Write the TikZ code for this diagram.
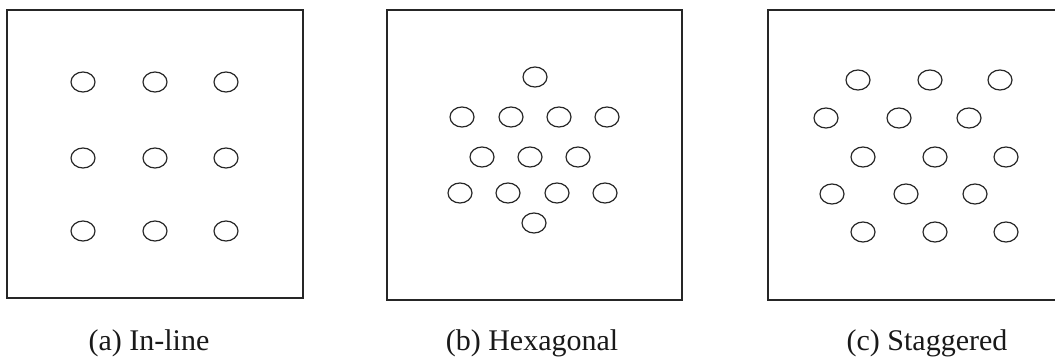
\documentclass[tikz,border=0pt]{standalone}
\usepackage{fontspec}
\setmainfont{Liberation Serif}
\begin{document}
\begin{tikzpicture}[x=1pt,y=-1pt,
  panel/.style={draw=black!85,line width=1.5pt},
  tube/.style={draw=black!85,line width=1.2pt},
  caption/.style={anchor=base,inner sep=0pt,font=\fontsize{30}{36}\selectfont,text=black!90}]
\useasboundingbox (0,0) rectangle (1055,364);
\clip (0,0) rectangle (1055,364);
\newcommand{\tb}[2]{\draw[tube] (#1,#2) ellipse [x radius=12,y radius=10];}
% (a) In-line
\draw[panel] (7,10) rectangle (303,298);
\foreach \y in {82,158,231}{\foreach \x in {83,155,226}{\tb{\x}{\y}}}
\node[caption] (ca) at (149,350) {(a) In-line};
% (b) Hexagonal
\draw[panel] (387,10) rectangle (682,300);
\tb{535}{77}
\foreach \x in {462,511,559,607}{\tb{\x}{117}}
\foreach \x in {482,530,578}{\tb{\x}{157}}
\foreach \x in {460,508,557,605}{\tb{\x}{193}}
\tb{534}{223}
\node[caption] (cb) at (532,350) {(b) Hexagonal};
% (c) Staggered
\draw[panel] (768,10) rectangle (1063,300);
\foreach \x in {858,930,1000}{\tb{\x}{80}}
\foreach \x in {826,899,969}{\tb{\x}{118}}
\foreach \x in {863,935,1006}{\tb{\x}{157}}
\foreach \x in {832,906,975}{\tb{\x}{194}}
\foreach \x in {863,935,1006}{\tb{\x}{232}}
\node[caption] (cc) at (927,350) {(c) Staggered};
\end{tikzpicture}
\end{document}
